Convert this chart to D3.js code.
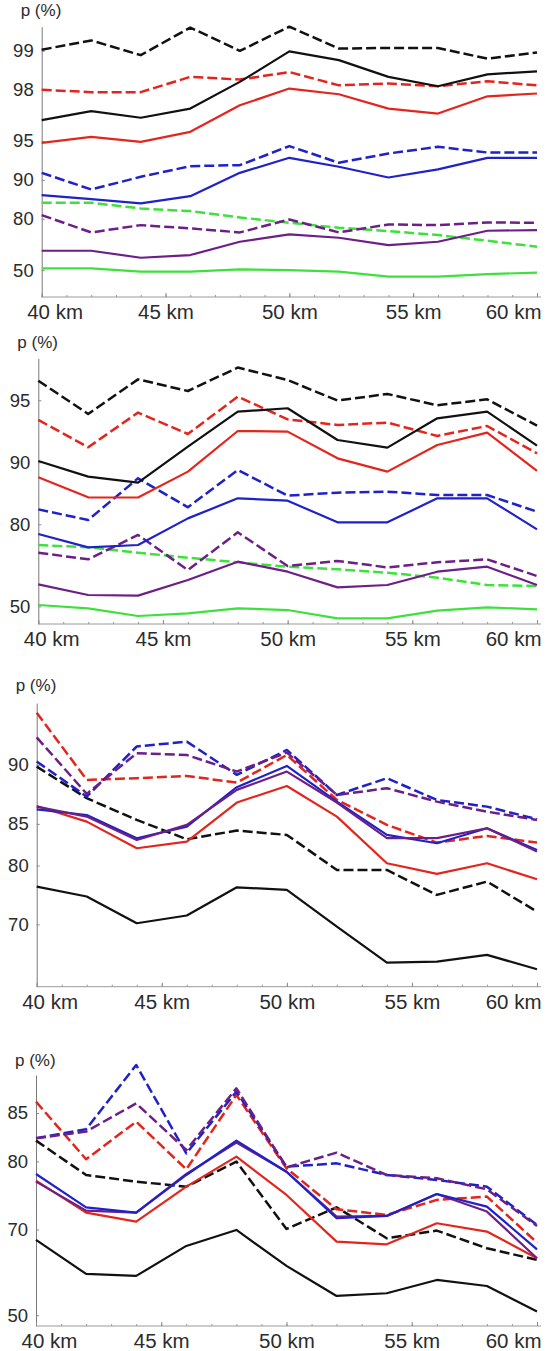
<!DOCTYPE html>
<html>
<head>
<meta charset="utf-8">
<script src="https://cdnjs.cloudflare.com/ajax/libs/d3/7.8.5/d3.min.js"></script>
<style>
  body { margin: 0; background: #fff; }
  text { font-family: "Liberation Sans", Arial, sans-serif; fill: #2b2b2b; }
</style>
</head>
<body>
<svg></svg>
<script>
let width = 553, height = 1351;

// distances (km), one point every 2 km
var km = [40, 42, 44, 46, 48, 50, 52, 54, 56, 58, 60]
var kmTicks = [40, 45, 50, 55, 60]

// panel 1
var p1Ticks = [50, 80, 90, 95, 98, 99]
var p1BlackDash  = [99.02, 99.17, 98.92, 99.34, 99.0, 99.35, 99.04, 99.05, 99.05, 98.85, 98.97]
var p1Black      = [96.56, 97.07, 96.70, 97.2, 98.26, 98.99, 98.82, 98.41, 98.12, 98.48, 98.56]
var p1RedDash    = [98.0, 97.91, 97.91, 98.41, 98.33, 98.54, 98.15, 98.21, 98.12, 98.28, 98.15]
var p1Red        = [94.84, 95.36, 94.93, 95.76, 97.36, 98.04, 97.83, 97.2, 96.94, 97.75, 97.86]
var p1BlueDash   = [91.19, 88.15, 90.54, 92.18, 92.32, 94.53, 92.64, 93.76, 94.46, 93.87, 93.87]
var p1Blue       = [86.89, 85.92, 84.79, 86.65, 91.19, 93.26, 92.09, 90.43, 91.71, 93.26, 93.26]
var p1GreenDash  = [84.97, 84.97, 83.37, 82.56, 80.48, 78.53, 76.55, 75.11, 73.27, 70.42, 67.08]
var p1PurpleDash = [81.27, 74.5, 77.61, 76.25, 74.5, 79.77, 74.5, 77.88, 77.61, 78.66, 78.53]
var p1Purple     = [64.63, 64.63, 59.93, 61.81, 69.88, 73.57, 71.95, 68.04, 69.88, 75.24, 75.53]
var p1Green      = [51.56, 51.56, 48.6, 48.6, 50.7, 50.1, 48.6, 43.8, 43.8, 46.4, 47.7]

// panel 2
var p2Ticks = [50, 80, 90, 95]
var p2BlackDash  = [95.98, 94.17, 96.04, 95.49, 96.53, 96.01, 94.98, 95.34, 94.71, 95.05, 93.36]
var p2Black      = [90.14, 88.26, 87.44, 91.61, 94.32, 94.53, 92.2, 91.51, 93.88, 94.32, 91.7]
var p2RedDash    = [93.77, 91.54, 94.26, 92.71, 95.2, 93.81, 93.41, 93.58, 92.55, 93.33, 90.95]
var p2Red        = [88.17, 85.21, 85.18, 88.9, 92.95, 92.9, 90.43, 88.9, 91.76, 92.82, 88.98]
var p2BlueDash   = [83.08, 80.94, 88.04, 83.46, 89.1, 85.48, 85.96, 86.12, 85.59, 85.59, 82.64]
var p2Blue       = [77.72, 74.14, 74.8, 81.29, 85.04, 84.64, 80.44, 80.44, 85.04, 85.04, 78.84]
var p2GreenDash  = [74.8, 74.14, 72.54, 70.97, 69.41, 67.89, 66.92, 65.67, 63.69, 60.6, 60.15]
var p2PurpleDash = [72.54, 70.42, 77.47, 66.68, 78.13, 68.13, 69.87, 67.65, 69.41, 70.42, 64.37]
var p2Purple     = [60.9, 55.96, 55.64, 62.75, 69.64, 66.05, 59.57, 60.6, 66.05, 67.89, 60.6]
var p2Green      = [50.74, 48.87, 44.3, 45.92, 48.87, 47.9, 42.82, 42.82, 47.52, 49.44, 48.3]

// panel 3
var p3Ticks = [70, 80, 85, 90]
var p3Black      = [76.88, 75.24, 70.23, 71.78, 76.77, 76.34, 69.54, 60.97, 61.24, 62.98, 59.12]
var p3BlackDash  = [89.89, 87.43, 85.4, 83.32, 84.29, 83.81, 79.39, 79.39, 75.52, 77.67, 72.53]
var p3Red        = [86.74, 85.23, 82.25, 83.05, 87.05, 88.45, 85.73, 80.32, 78.82, 80.32, 78.02]
var p3RedDash    = [93.03, 88.92, 89.05, 89.22, 88.71, 90.67, 87.28, 84.89, 82.93, 83.7, 82.93]
var p3Blue       = [86.43, 85.89, 83.44, 84.71, 88.35, 89.94, 87.13, 83.81, 82.85, 84.54, 82.05]
var p3Purple     = [86.68, 85.73, 83.24, 84.89, 88.13, 89.54, 87.05, 83.44, 83.44, 84.54, 81.84]
var p3BlueDash   = [90.24, 87.57, 91.2, 91.49, 89.3, 90.99, 87.71, 89.05, 87.28, 86.68, 85.47]
var p3PurpleDash = [91.74, 87.8, 90.78, 90.67, 89.54, 90.82, 87.71, 88.27, 87.13, 86.21, 85.4]

// panel 4
var p4Ticks = [50, 70, 80, 85]
var p4Black      = [68.07, 60.91, 60.44, 66.91, 69.91, 62.73, 55.43, 56.14, 59.48, 58.0, 51.08]
var p4BlackDash  = [82.32, 78.31, 77.43, 76.75, 79.97, 70.09, 73.71, 68.38, 69.8, 66.45, 64.05]
var p4RedDash    = [85.98, 80.25, 84.21, 79.03, 86.53, 79.16, 73.4, 72.49, 74.84, 75.33, 67.56]
var p4Red        = [77.57, 72.87, 71.38, 76.75, 80.56, 75.57, 67.75, 67.23, 71.09, 69.62, 64.4]
var p4Blue       = [78.44, 73.71, 72.87, 78.31, 82.32, 78.73, 71.94, 72.33, 75.71, 73.81, 66.24]
var p4Purple     = [77.43, 73.19, 72.87, 78.44, 82.11, 78.73, 72.22, 72.33, 75.71, 73.03, 64.4]
var p4BlueDash   = [82.57, 83.48, 88.73, 80.93, 86.79, 79.36, 79.76, 78.31, 77.66, 76.75, 70.8]
var p4PurpleDash = [82.57, 83.25, 85.84, 81.31, 87.05, 79.28, 81.01, 78.31, 77.88, 76.38, 70.62]

var black = "#111", red = "#e3261d", blue = "#1e22c8", purple = "#6c1f86", green = "#3ee03c"

// layout of the four stacked plots (pixels), y-range in p (%)
var panels = [
  { top: 26.7, bottom: 297, x0: 41.7, pLow: 19.3, pHigh: 99.35, label: 10, ticks: p1Ticks,
    series: [[p1Green, green, 0], [p1GreenDash, green, 1], [p1Purple, purple, 0], [p1PurpleDash, purple, 1],
             [p1Blue, blue, 0], [p1BlueDash, blue, 1], [p1Red, red, 0], [p1RedDash, red, 1],
             [p1Black, black, 0], [p1BlackDash, black, 1]] },
  { top: 358.3, bottom: 624, x0: 38.3, pLow: 39.1, pHigh: 96.87, label: 342, ticks: p2Ticks,
    series: [[p2Green, green, 0], [p2GreenDash, green, 1], [p2Purple, purple, 0], [p2PurpleDash, purple, 1],
             [p2Blue, blue, 0], [p2BlueDash, blue, 1], [p2Red, red, 0], [p2RedDash, red, 1],
             [p2Black, black, 0], [p2BlackDash, black, 1]] },
  { top: 703, bottom: 986.7, x0: 36.7, pLow: 53.9, pHigh: 93.48, label: 685, ticks: p3Ticks,
    series: [[p3Black, black, 0], [p3BlackDash, black, 1], [p3Red, red, 0], [p3RedDash, red, 1],
             [p3Blue, blue, 0], [p3BlueDash, blue, 1], [p3Purple, purple, 0], [p3PurpleDash, purple, 1]] },
  { top: 1075, bottom: 1326, x0: 36, pLow: 46.7, pHigh: 88.04, label: 1060, ticks: p4Ticks,
    series: [[p4Black, black, 0], [p4BlackDash, black, 1], [p4Red, red, 0], [p4RedDash, red, 1],
             [p4Purple, purple, 0], [p4Blue, blue, 0], [p4BlueDash, blue, 1], [p4PurpleDash, purple, 1]] }
]

let svg = d3.select("svg")
    .attr("width", width)
    .attr("height", height)

panels.forEach(function (pn) {
  // y axis is logarithmic in (100 - p)
  var y = d3.scaleLog()
      .domain([100 - pn.pLow, 100 - pn.pHigh])
      .range([pn.bottom, pn.top])
  var x = d3.scaleLinear()
      .domain([40, 60])
      .range([pn.x0, 537])

  var g = svg.append("g")

  // y axis
  var ya = g.append("g")
      .attr("transform", "translate(" + pn.x0 + ",0)")
      .call(d3.axisLeft(y)
          .tickValues(pn.ticks.map(t => 100 - t))
          .tickFormat(d => Math.round(100 - d))
          .tickSizeInner(-3)
          .tickSizeOuter(0)
          .tickPadding(8))
  ya.select(".domain").attr("stroke", "#7a7a7a")
  ya.selectAll(".tick line").attr("stroke", "#8a8a8a")
  ya.selectAll("text").style("font-size", "18.5px").attr("fill", "#2b2b2b")

  // x axis: minor ticks every km, major every 5 km
  var xm = g.append("g")
      .attr("transform", "translate(0," + pn.bottom + ")")
      .call(d3.axisBottom(x).tickValues(d3.range(40, 61)).tickSize(-2).tickFormat(""))
  xm.select(".domain").attr("stroke", "#9a9a9a").attr("d", "M" + pn.x0 + ",0H541")
  xm.selectAll(".tick line").attr("stroke", "#999")

  var xa = g.append("g")
      .attr("transform", "translate(0," + pn.bottom + ")")
      .call(d3.axisBottom(x).tickValues(kmTicks).tickSizeInner(-4).tickSizeOuter(0)
          .tickPadding(7.5).tickFormat(d => d + " km"))
  xa.select(".domain").remove()
  xa.selectAll(".tick line").attr("stroke", "#888")
  xa.selectAll("text").style("font-size", "20.5px").attr("fill", "#2b2b2b")
  xa.selectAll("text").filter(d => d == 40).attr("text-anchor", "start").attr("x", -15)
  xa.selectAll("text").filter(d => d == 60).attr("text-anchor", "end").attr("x", 4)

  g.append("text")
      .attr("x", pn.x0 - 21)
      .attr("y", pn.label)
      .attr("dy", "0.35em")
      .style("font-size", "17px")
      .text("p (%)")

  var line = d3.line()
      .x((d, i) => x(km[i]))
      .y(d => y(100 - d))

  g.selectAll(".series")
      .data(pn.series)
      .enter()
      .append("path")
      .attr("d", s => line(s[0]))
      .attr("fill", "none")
      .attr("stroke", s => s[1])
      .attr("stroke-width", s => s[2] ? 2.5 : 2.2)
      .attr("stroke-linejoin", "round")
      .attr("stroke-dasharray", s => s[2] ? "10,4" : null)
})
</script>
</body>
</html>
